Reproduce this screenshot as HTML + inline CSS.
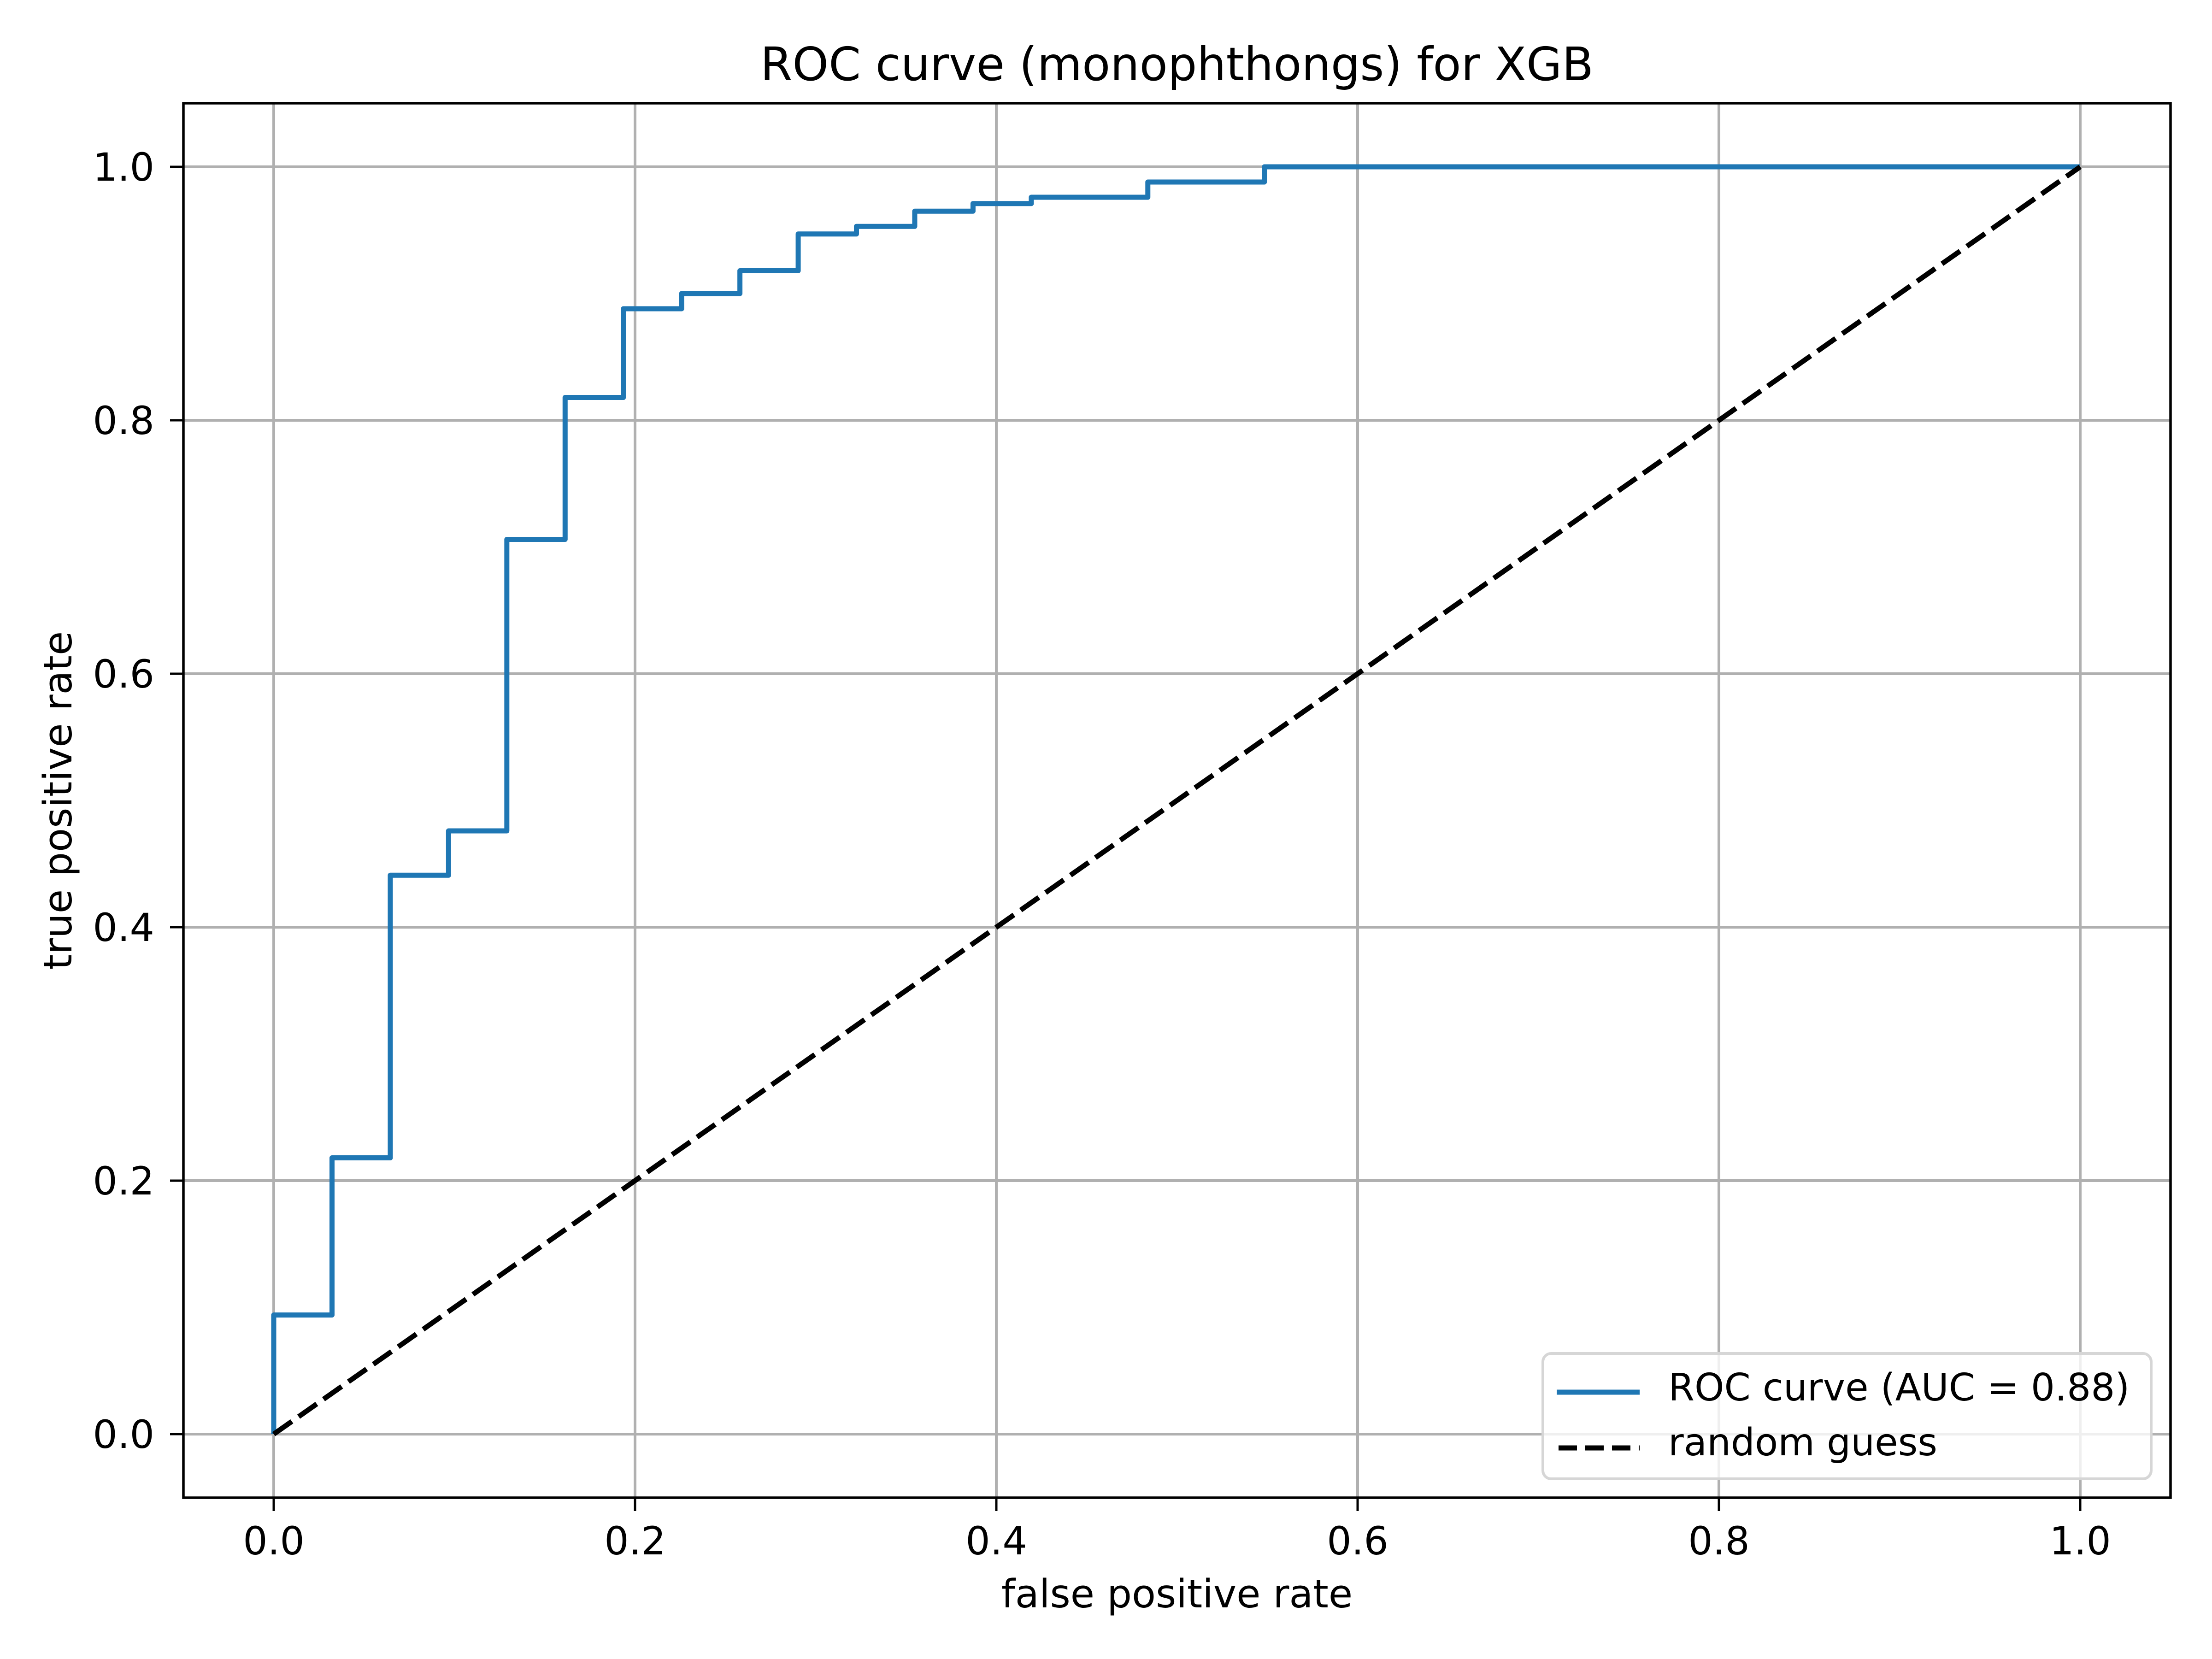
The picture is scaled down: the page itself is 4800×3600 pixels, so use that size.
<!DOCTYPE html>
<html><head><meta charset="utf-8"><style>
html,body{margin:0;padding:0;background:#fff;}
svg{display:block;font-family:"DejaVu Sans","Liberation Sans",sans-serif;}
</style></head><body>
<svg id="chart" width="4800" height="3600" viewBox="0 0 4800 3600" xmlns="http://www.w3.org/2000/svg">
<rect x="0" y="0" width="4800" height="3600" fill="#fff"/>
<g id="grid"></g>
<g id="series"></g>
<rect x="398" y="224" width="4312" height="3026" fill="none" stroke="#000" stroke-width="5.5"/>
<g id="ticks"></g>
<text x="2554" y="174" font-size="100" text-anchor="middle">ROC curve (monophthongs) for XGB</text>
<text x="2554" y="3488" font-size="85" text-anchor="middle">false positive rate</text>
<text x="155" y="1737" font-size="85" text-anchor="middle" transform="rotate(-90 155 1737)">true positive rate</text>
<g>
<rect x="3348" y="2937" width="1320" height="272" rx="18" fill="#fff" fill-opacity="0.8" stroke="#d6d6d6" stroke-width="6"/>
<line x1="3378" y1="3021" x2="3558" y2="3021" stroke="#1f77b4" stroke-width="11"/>
<text x="3620" y="3039" font-size="82">ROC curve (AUC = 0.88)</text>
<line x1="3382" y1="3142" x2="3558" y2="3142" stroke="#000" stroke-width="11" stroke-dasharray="40,18"/>
<text x="3620" y="3158" font-size="82">random guess</text>
</g>
</svg>
<script>
const fpr = [0, 0, 1/31, 1/31, 2/31, 2/31, 3/31, 3/31, 4/31, 4/31, 5/31, 5/31, 6/31, 6/31, 7/31, 7/31, 8/31, 8/31, 9/31, 9/31, 10/31, 10/31, 11/31, 11/31, 12/31, 12/31, 13/31, 13/31, 15/31, 15/31, 17/31, 17/31, 1];
const tpr = [0, 0.094, 0.094, 0.218, 0.218, 0.441, 0.441, 0.476, 0.476, 0.706, 0.706, 0.818, 0.818, 0.888, 0.888, 0.900, 0.900, 0.918, 0.918, 0.947, 0.947, 0.953, 0.953, 0.965, 0.965, 0.971, 0.971, 0.976, 0.976, 0.988, 0.988, 1.0, 1.0];
const guessX = [0, 1];
const guessY = [0, 1];
const xTicks = [0, 0.2, 0.4, 0.6, 0.8, 1.0];
const yTicks = [0, 0.2, 0.4, 0.6, 0.8, 1.0];
const xTickLabels = ["0.0", "0.2", "0.4", "0.6", "0.8", "1.0"];
const yTickLabels = ["0.0", "0.2", "0.4", "0.6", "0.8", "1.0"];

const X0 = 594, XS = 3920, Y0 = 3112, YS = 2750;
function sx(v){ return X0 + v * XS; }
function sy(v){ return Y0 - v * YS; }
const NS = "http://www.w3.org/2000/svg";
function mk(tag, parent){ const e = document.createElementNS(NS, tag); parent.appendChild(e); return e; }
const grid = document.getElementById('grid');
const ticks = document.getElementById('ticks');
const series = document.getElementById('series');

xTicks.forEach((v, i) => {
  const g = mk('line', grid);
  
  
  g.setAttribute('x1', sx(v)); g.setAttribute('x2', sx(v));
  g.setAttribute('y1', 224); g.setAttribute('y2', 3250);
  g.setAttribute('stroke', '#b0b0b0'); g.setAttribute('stroke-width', 6);
  const t = mk('line', ticks);
  
  
  t.setAttribute('x1', sx(v)); t.setAttribute('x2', sx(v));
  t.setAttribute('y1', 3250); t.setAttribute('y2', 3279);
  t.setAttribute('stroke', '#000'); t.setAttribute('stroke-width', 5);
  const l = mk('text', ticks);
  
  
  l.setAttribute('x', sx(v)); l.setAttribute('y', 3373);
  l.setAttribute('font-size', 84); l.setAttribute('text-anchor', 'middle');
  l.textContent = xTickLabels[i];
});
yTicks.forEach((v, i) => {
  const g = mk('line', grid);
  
  
  g.setAttribute('x1', 398); g.setAttribute('x2', 4710);
  g.setAttribute('y1', sy(v)); g.setAttribute('y2', sy(v));
  g.setAttribute('stroke', '#b0b0b0'); g.setAttribute('stroke-width', 6);
  const t = mk('line', ticks);
  
  
  t.setAttribute('x1', 369); t.setAttribute('x2', 398);
  t.setAttribute('y1', sy(v)); t.setAttribute('y2', sy(v));
  t.setAttribute('stroke', '#000'); t.setAttribute('stroke-width', 5);
  const l = mk('text', ticks);
  
  
  l.setAttribute('x', 335); l.setAttribute('y', sy(v) + 30);
  l.setAttribute('font-size', 84); l.setAttribute('text-anchor', 'end');
  l.textContent = yTickLabels[i];
});

const roc = mk('polyline', series);


roc.setAttribute('points', fpr.map((v, i) => sx(v) + ',' + sy(tpr[i])).join(' '));
roc.setAttribute('fill', 'none'); roc.setAttribute('stroke', '#1f77b4');
roc.setAttribute('stroke-width', 11); roc.setAttribute('stroke-linejoin', 'round');

const guess = mk('polyline', series);


guess.setAttribute('points', guessX.map((v, i) => sx(v) + ',' + sy(guessY[i])).join(' '));
guess.setAttribute('fill', 'none'); guess.setAttribute('stroke', '#000');
guess.setAttribute('stroke-width', 11); guess.setAttribute('stroke-dasharray', '48,18');
</script>
</body></html>
